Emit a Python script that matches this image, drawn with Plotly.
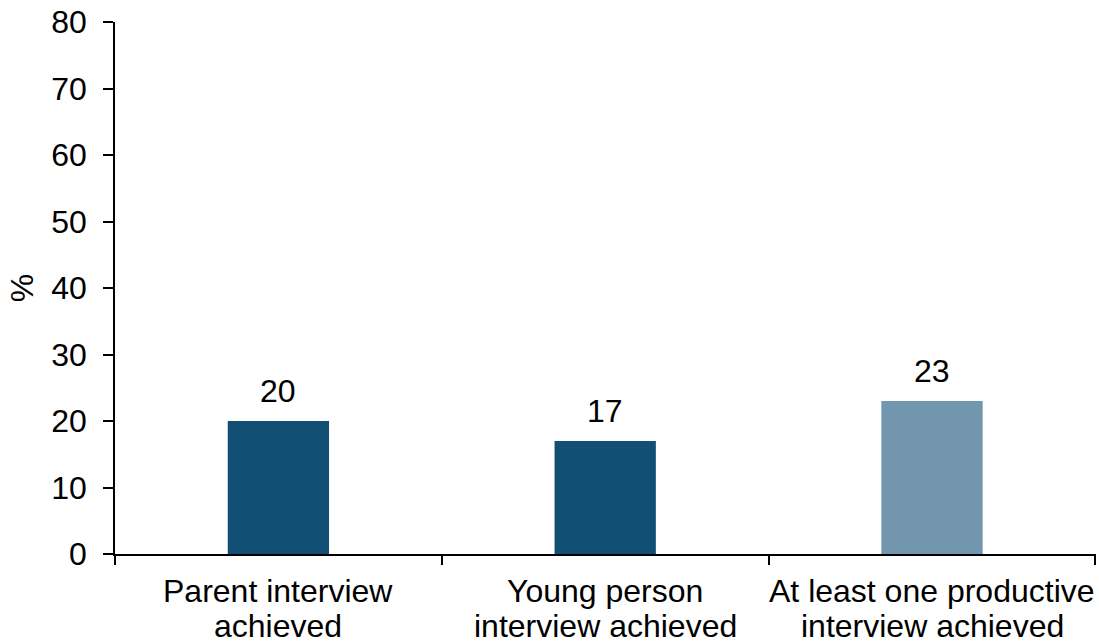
import plotly.graph_objects as go

categories = ["Parent interview<br>achieved", "Young person<br>interview achieved",
              "At least one productive<br>interview achieved"]
values = [20, 17, 23]
bar_colors = ["#124F74", "#124F74", "#7296AE"]
y_ticks = [0, 10, 20, 30, 40, 50, 60, 70, 80]

font_family = "Liberation Sans, Arial, sans-serif"
font_size = 32

fig = go.Figure(
    go.Bar(
        x=categories,
        y=values,
        marker=dict(color=bar_colors, line=dict(width=0)),
        width=0.31,
        cliponaxis=False,
    )
)

# value labels above each bar
for cat, val in zip(categories, values):
    fig.add_annotation(
        x=cat, y=val, xref="x", yref="y",
        text=str(val), showarrow=False,
        yanchor="bottom", yshift=10,
        font=dict(size=font_size, color="black", family=font_family),
    )

# category labels under the axis, one annotation per line for tighter spacing
line_gap = 35
for cat in categories:
    for i, line in enumerate(cat.split("<br>")):
        fig.add_annotation(
            x=cat, y=0, xref="x", yref="paper",
            text=line, showarrow=False,
            yanchor="top", yshift=-18 - i * line_gap,
            borderpad=0,
            font=dict(size=font_size, color="black", family=font_family),
        )

fig.update_layout(
    width=1099,
    height=643,
    margin=dict(l=115, r=3, t=22, b=89),
    paper_bgcolor="white",
    plot_bgcolor="white",
    showlegend=False,
    font=dict(family=font_family, size=font_size, color="black"),
)

fig.update_xaxes(
    showline=True,
    linecolor="black",
    linewidth=1.5,
    ticks="outside",
    tickson="boundaries",
    ticklen=9,
    tickwidth=1.5,
    tickcolor="black",
    showticklabels=False,
    showgrid=False,
)

fig.update_yaxes(
    range=[0, 80],
    tickvals=y_ticks,
    showline=True,
    linecolor="black",
    linewidth=1.5,
    ticks="outside",
    ticklen=10,
    tickwidth=1.5,
    tickcolor="black",
    tickfont=dict(size=font_size),
    ticklabelstandoff=10,
    showgrid=False,
    zeroline=False,
    title=dict(text="%", font=dict(size=font_size), standoff=8),
)

fig.write_html("out.html")
